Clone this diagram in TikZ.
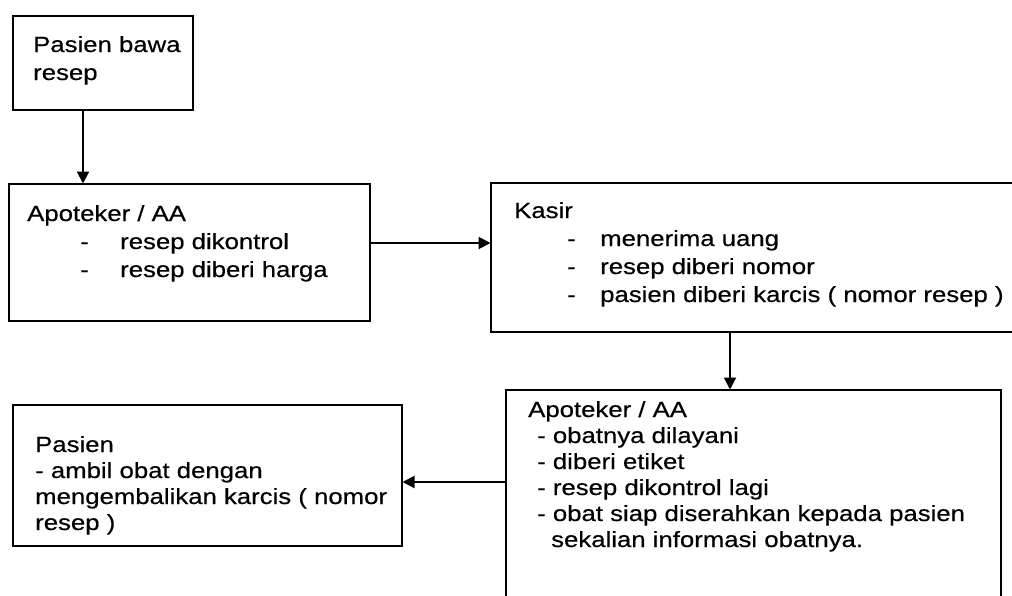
\documentclass[tikz,border=0pt]{standalone}
\usepackage{fontspec}
\setmainfont{Liberation Sans}[FakeStretch=1.17,FakeBold=0.4]
\usetikzlibrary{arrows.meta}
\tikzset{
  boxshape/.style={draw=black, line width=2pt, rectangle, inner sep=0pt, anchor=north west},
  txt/.style={anchor=base west, inner sep=0pt, font=\fontsize{22}{26}\selectfont},
  arr/.style={line width=2pt, -{Triangle[length=12pt,width=12pt]}, shorten >=-0.5pt}
}
\begin{document}
\begin{tikzpicture}[x=1pt,y=-1pt]
\useasboundingbox (0,0) rectangle (1012,595);
\clip (0,0) rectangle (1012,595);
\fill[white] (0,0) rectangle (1012,595);
% boxes
\node[boxshape, minimum width=180pt, minimum height=94pt] (b1) at (12,15) {};
\node[boxshape, minimum width=361pt, minimum height=137pt] (b2) at (8,183) {};
\node[boxshape, minimum width=540pt, minimum height=149pt] (b3) at (490,182) {};
\node[boxshape, minimum width=495pt, minimum height=240pt] (b4) at (505,389) {};
\node[boxshape, minimum width=389pt, minimum height=141pt] (b5) at (12,404) {};
% texts box 1
\node[txt] (t11) at (33,52) {Pasien bawa};
\node[txt] (t12) at (33,80) {resep};
% box 2
\node[txt] (t21) at (27,221) {Apoteker / AA};
\node[txt] (d22) at (80,249) {-};
\node[txt] (t22) at (120,249) {resep dikontrol};
\node[txt] (d23) at (80,277) {-};
\node[txt] (t23) at (120,277) {resep diberi harga};
% box 3
\node[txt] (t31) at (514,218) {Kasir};
\node[txt] (d32) at (567,246) {-};
\node[txt] (t32) at (600,246) {menerima uang};
\node[txt] (d33) at (567,274) {-};
\node[txt] (t33) at (600,274) {resep diberi nomor};
\node[txt] (d34) at (567,302) {-};
\node[txt] (t34) at (600,302) {pasien diberi karcis ( nomor resep )};
% box 4
\node[txt] (t41) at (528,417) {Apoteker / AA};
\node[txt] (t42) at (537,443) {- obatnya dilayani};
\node[txt] (t43) at (537,469) {- diberi etiket};
\node[txt] (t44) at (537,495) {- resep dikontrol lagi};
\node[txt] (t45) at (537,521) {- obat siap diserahkan kepada pasien};
\node[txt] (t46) at (551,547) {sekalian informasi obatnya.};
% box 5
\node[txt] (t51) at (35,452) {Pasien};
\node[txt] (t52) at (35,478) {- ambil obat dengan};
\node[txt] (t53) at (35,504) {mengembalikan karcis ( nomor};
\node[txt] (t54) at (35,530) {resep )};
% connectors
\coordinate (c1) at (83,0);
\coordinate (c2) at (0,243);
\coordinate (c3) at (730,0);
\coordinate (c4) at (0,482);
\draw[arr] (b1.south -| c1) -- (b2.north -| c1);
\draw[arr] (b2.east |- c2) -- (b3.west |- c2);
\draw[arr] (b3.south -| c3) -- (b4.north -| c3);
\draw[arr] (b4.west |- c4) -- (b5.east |- c4);
\end{tikzpicture}
\end{document}
